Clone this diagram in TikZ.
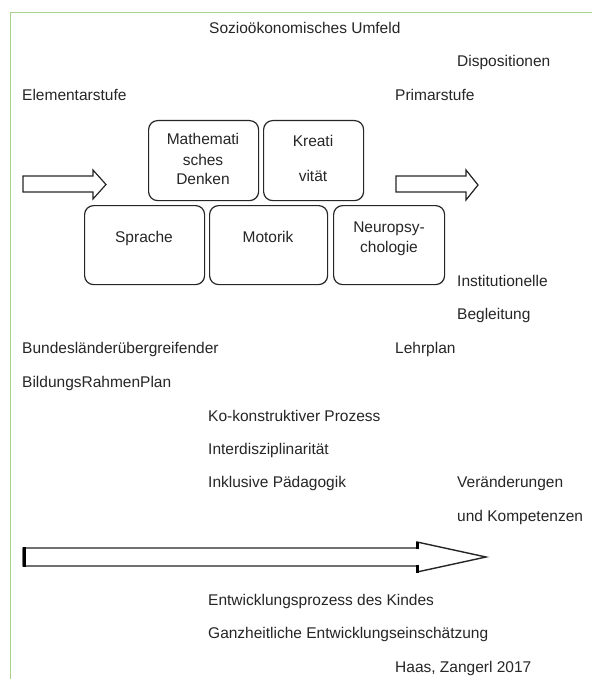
\documentclass[tikz,border=0pt]{standalone}
\usepackage{fontspec}
\setmainfont{Liberation Sans}
\definecolor{framegreen}{HTML}{A9D18E}
\definecolor{ink}{HTML}{262626}
\begin{document}
\begin{tikzpicture}[x=1pt,y=-1pt,
  txt/.style={anchor=base west,inner sep=0pt,font=\fontsize{15.5}{18}\selectfont,text=ink},
  ctxt/.style={anchor=base,inner sep=0pt,font=\fontsize{15.5}{18}\selectfont,text=ink},
  rbox/.style={draw=ink,line width=1.2pt,rounded corners=9pt,anchor=north west,inner sep=0pt},
  hollow/.style={draw=ink,line width=1.2pt,fill=white,line join=miter},
  frameline/.style={draw=framegreen,line width=1pt}
]
\useasboundingbox (0,0) rectangle (592,679);
\fill[white] (0,0) rectangle (592,679);

% frame
\coordinate (fc) at (10.5,12.7);
\draw[frameline] (592,12.7) -- (fc) -- (10.5,679);

% top texts
\node[txt] (soz)  at (209,34)  {Sozioökonomisches Umfeld};
\node[txt] (disp) at (457,67)  {Dispositionen};
\node[txt] (elem) at (22,101)  {Elementarstufe};
\node[txt] (prim) at (395,101) {Primarstufe};

% boxes
\node[rbox, minimum width=110pt, minimum height=80pt] (math)  at (148,120) {};
\node[rbox, minimum width=100pt, minimum height=80pt] (krea)  at (263,120) {};
\node[rbox, minimum width=120pt, minimum height=79pt] (spr)   at (84,205)  {};
\node[rbox, minimum width=118pt, minimum height=79pt] (mot)   at (209,205) {};
\node[rbox, minimum width=111pt, minimum height=79pt] (neuro) at (333,205) {};

% box labels
\node[ctxt] (m1) at (203,145) {Mathemati};
\node[ctxt] (m2) at (203,165) {sches};
\node[ctxt] (m3) at (203,184) {Denken};
\node[ctxt] (k1) at (313,147) {Kreati};
\node[ctxt] (k2) at (313,181) {vität};
\node[ctxt] (s1) at (144,242) {Sprache};
\node[ctxt] (o1) at (268,242) {Motorik};
\node[ctxt] (n1) at (389,232) {Neuropsy-};
\node[ctxt] (n2) at (389,252) {chologie};

% small hollow arrows
\draw[hollow] (23,176) -- (93,176) -- (93,170) -- (106,184.5) -- (93,199) -- (93,192) -- (23,192) -- cycle;
\draw[hollow] (396,176) -- (466,176) -- (466,170) -- (478,185) -- (466,200) -- (466,192) -- (396,192) -- cycle;

% middle texts
\node[txt] (inst)  at (457,286)   {Institutionelle};
\node[txt] (begl)  at (457,319.5) {Begleitung};
\node[txt] (bund)  at (22,353)    {Bundesländerübergreifender};
\node[txt] (lehr)  at (395,353)   {Lehrplan};
\node[txt] (bild)  at (22,387)    {BildungsRahmenPlan};
\node[txt] (ko)    at (208,421)   {Ko-konstruktiver Prozess};
\node[txt] (inter) at (208,454)   {Interdisziplinarität};
\node[txt] (inkl)  at (208,487)   {Inklusive Pädagogik};
\node[txt] (ver)   at (457,487)   {Veränderungen};
\node[txt] (und)   at (457,521)   {und Kompetenzen};

% long hollow arrow
\draw[hollow, line width=1.4pt] (23,548) -- (417,548) -- (417,542) -- (486,557) -- (417,572) -- (417,566) -- (23,566) -- cycle;
\draw[black, line width=3.5pt] (24.5,547.3) -- (24.5,566.7);
\draw[black, line width=3pt] (417,541.5) -- (417,549);
\draw[black, line width=3pt] (417,565) -- (417,572.5);

% bottom texts
\node[txt] (entw) at (208,605) {Entwicklungsprozess des Kindes};
\node[txt] (ganz) at (208,638) {Ganzheitliche Entwicklungseinschätzung};
\node[txt] (haas) at (395,672) {Haas, Zangerl 2017};
\end{tikzpicture}
\end{document}
